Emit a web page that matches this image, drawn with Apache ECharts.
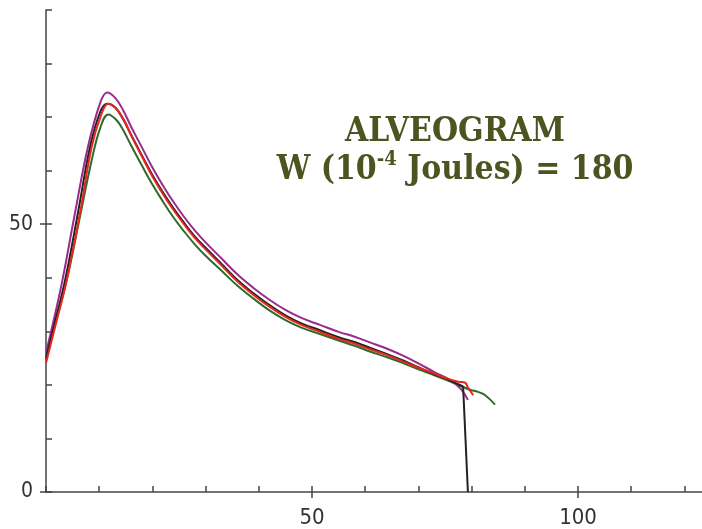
<!DOCTYPE html>
<html>
<head>
<meta charset="utf-8">
<script src="https://cdn.jsdelivr.net/npm/echarts@6/dist/echarts.min.js"></script>
<style>
html,body{margin:0;padding:0;background:#fff;}
#chart{width:702px;height:529px;}
</style>
</head>
<body>
<div id="chart"></div>
<script>
// ---- data ----
const xMinorTicks = [0,10,20,30,40,50,60,70,80,90,100,110,120];
const xMajorTicks = [50,100];
const yMinorTicks = [0,10,20,30,40,50,60,70,80,90];
const yMajorTicks = [0,50];

const purple = [[0,26.0],[1.5,32.3],[3.1,39.6],[5.45,52.1],[7.9,64.5],[10.2,72.7],[11.5,74.6],[13.0,73.6],[14.5,71.3],[16,68.2],[18,64.4],[20,60.6],[22,57.2],[24,54.1],[26,51.3],[28,48.8],[30,46.6],[33,43.6],[36,40.6],[39,38.1],[42,35.9],[45,34.0],[48,32.5],[51.5,31.2],[55,29.9],[58,29.0],[61,27.9],[64,26.8],[67,25.5],[70,24.0],[73,22.4],[76,20.9],[78,19.2],[79.3,17.2]];
const black = [[0,25.0],[1.5,31.0],[3.6,39.6],[6.0,52.1],[8.3,64.5],[10.2,71.0],[11.5,72.5],[13.0,71.8],[14.5,69.6],[16,66.7],[18,62.9],[20,59.2],[22,55.9],[24,52.9],[26,50.2],[28,47.7],[30,45.6],[33,42.6],[36,39.6],[39,37.1],[42,34.9],[45,33.0],[48,31.5],[51.5,30.2],[55,28.9],[58,28.0],[61,26.9],[64,25.8],[67,24.6],[70,23.3],[73,22.0],[76,20.8],[78.4,19.7],[79.3,0]];
const red = [[0,24.1],[1.5,30.0],[3.9,39.6],[6.4,52.1],[8.6,64.5],[10.4,70.5],[11.7,72.5],[13.2,71.6],[14.7,69.4],[16,66.6],[18,62.7],[20,58.9],[22,55.6],[24,52.6],[26,49.9],[28,47.4],[30,45.3],[33,42.3],[36,39.3],[39,36.8],[42,34.6],[45,32.7],[48,31.2],[51.5,29.9],[55,28.6],[58,27.7],[61,26.6],[64,25.6],[67,24.4],[70,23.2],[73,22.1],[75,21.3],[77.5,20.6],[78.8,20.4],[79.3,19.5],[80.3,18.1]];
const green = [[0,24.5],[1.5,30.5],[3.9,39.6],[6.4,51.5],[8.6,62.0],[10.2,68.0],[11.7,70.5],[13.2,69.5],[14.5,67.6],[16,64.7],[18,61.0],[20,57.4],[22,54.2],[24,51.2],[26,48.6],[28,46.2],[30,44.1],[33,41.3],[36,38.5],[39,36.1],[42,33.9],[45,32.1],[48,30.7],[51.5,29.5],[55,28.3],[58,27.3],[61,26.2],[64,25.2],[67,24.1],[70,22.9],[73,21.8],[76,20.6],[78.4,19.6],[79.7,19.1],[81.2,18.7],[82.5,18.1],[84.4,16.3]];

const titleLine1 = 'ALVEOGRAM';
const titleLine2 = '{m|W (10}{s|-4}{m| Joules) = 180}';

// ---- chart ----
const chart = echarts.init(document.getElementById('chart'), null, {renderer:'canvas'});
const axisColor = '#444';
const labelFont = "'DejaVu Sans Condensed', 'Open Sans', sans-serif";
const xMin = 0, xMax = 123.3, yMin = 0, yMax = 90;

function mkSeries(name, data, color, smooth){
  return {name, type:'line', data, showSymbol:false, symbol:'none', smooth:smooth,
    lineStyle:{color, width:2}, xAxisIndex:0, yAxisIndex:0, animation:false, clip:false};
}

const titleColor = '#4c5420';
const serif = "'DejaVu Serif', serif";

chart.setOption({
  animation:false,
  grid:{left:46, right:0, top:10, bottom:37, containLabel:false},
  xAxis:[
    {type:'value', min:xMin, max:xMax, position:'bottom',
     axisLine:{show:true, onZero:false, lineStyle:{color:axisColor, width:1.5}},
     axisTick:{show:true, inside:true, length:6, customValues:xMinorTicks, lineStyle:{color:axisColor, width:1.5}},
     axisLabel:{show:false}, splitLine:{show:false}},
    {type:'value', min:xMin, max:xMax, position:'bottom',
     axisLine:{show:false, onZero:false},
     axisTick:{show:true, inside:false, length:6, customValues:xMajorTicks, lineStyle:{color:axisColor, width:1.5}},
     axisLabel:{show:true, customValues:xMajorTicks, margin:15, color:'#333', fontSize:22, fontFamily:labelFont},
     splitLine:{show:false}}
  ],
  yAxis:[
    {type:'value', min:yMin, max:yMax, position:'left',
     axisLine:{show:true, onZero:false, lineStyle:{color:axisColor, width:1.5}},
     axisTick:{show:true, inside:true, length:6, customValues:yMinorTicks, lineStyle:{color:axisColor, width:1.5}},
     axisLabel:{show:false}, splitLine:{show:false}},
    {type:'value', min:yMin, max:yMax, position:'left',
     axisLine:{show:false, onZero:false},
     axisTick:{show:true, inside:false, length:6, customValues:yMajorTicks, lineStyle:{color:axisColor, width:1.5}},
     axisLabel:{show:true, customValues:yMajorTicks, margin:13, color:'#333', fontSize:21, fontFamily:labelFont},
     splitLine:{show:false}}
  ],
  series:[
    mkSeries('green', green, '#2e6b2a', 0.4),
    mkSeries('purple', purple, '#9b2a8e', 0.4),
    mkSeries('black', black.slice(0, -1), '#222222', 0.4),
    mkSeries('black drop', black.slice(-2), '#222222', false),
    mkSeries('red', red, '#e8261f', 0.4)
  ],
  graphic:[
    {type:'text', x:455, y:132, scaleY:1.14,
     style:{text:titleLine1, fill:titleColor, font:"bold 30px 'DejaVu Serif', serif", align:'center', verticalAlign:'middle'}},
    {type:'text', x:455, y:170, scaleY:1.14,
     style:{text:titleLine2, align:'center', verticalAlign:'middle',
       rich:{
         m:{fontSize:30, fontWeight:'bold', fontFamily:serif, fill:titleColor, lineHeight:36},
         s:{fontSize:18, fontWeight:'bold', fontFamily:serif, fill:titleColor, lineHeight:23, verticalAlign:'top'}
       }}}
  ]
});
</script>
</body>
</html>
